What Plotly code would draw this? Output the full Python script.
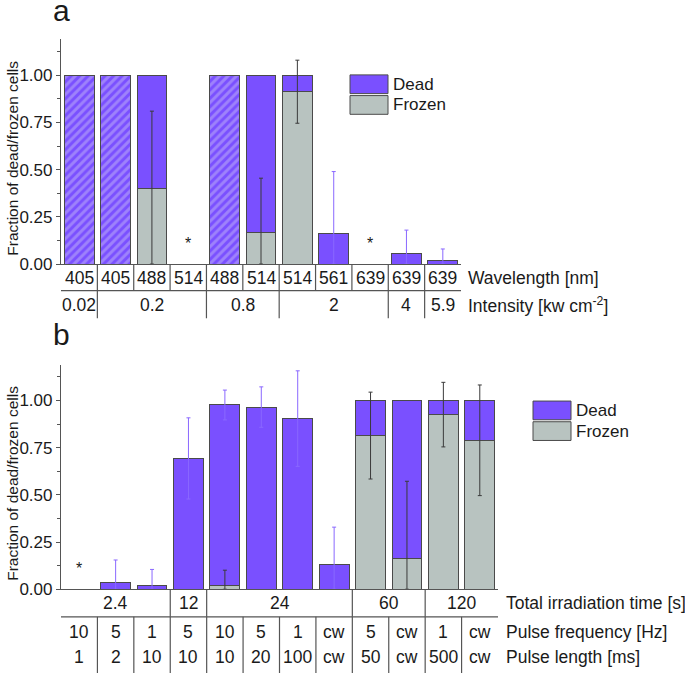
import plotly.graph_objects as go

# ---------------- DATA ----------------
# Panel a
wavelength_a = ["405", "405", "488", "514", "488", "514", "514", "561", "639", "639", "639"]
intensity_groups_a = ["0.02", "0.2", "0.8", "2", "4", "5.9"]
intensity_spans_a = [1, 3, 2, 3, 1, 1]
frozen_a = [0, 0, 0.40, 0, 0, 0.165, 0.913, 0, 0, 0, 0]
dead_a = [1.0, 1.0, 0.60, 0, 1.0, 0.835, 0.087, 0.163, 0, 0.056, 0.017]
hatched_a = [True, True, False, False, True, False, False, False, False, False, False]
frozen_err_a = [None, None, 0.41, None, None, 0.29, 0.167, None, None, None, None]
dead_err_a = [None, None, None, None, None, None, None, 0.327, None, 0.124, 0.063]
stars_a = [3, 8]

# Panel b
time_groups_b = ["2.4", "12", "24", "60", "120"]
time_spans_b = [3, 1, 4, 2, 2]
freq_b = ["10", "5", "1", "5", "10", "5", "1", "cw", "5", "cw", "1", "cw"]
length_b = ["1", "2", "10", "10", "10", "20", "100", "cw", "50", "cw", "500", "cw"]
frozen_b = [0, 0, 0, 0, 0.021, 0, 0, 0, 0.814, 0.162, 0.925, 0.789]
dead_b = [0, 0.038, 0.021, 0.693, 0.955, 0.965, 0.904, 0.129, 0.186, 0.838, 0.075, 0.211]
frozen_err_b = [None, None, None, None, 0.08, None, None, None, 0.23, 0.41, 0.171, 0.293]
dead_err_b = [None, 0.117, 0.084, 0.215, 0.079, 0.107, 0.253, 0.2, None, None, None, None]
stars_b = [0]

y_ticks = [0, 0.25, 0.5, 0.75, 1.0]

# ---------------- STYLE ----------------
W, H = 685, 684
PURPLE = "#7a50ff"
PURPLE_ERR = "#8a68ff"
GRAY = "#b8c3c0"
HATCH = "#c2b4f8"
EDGE = "#4a4a4a"
AXIS = "#555555"
FONT = "Liberation Sans, Arial, Helvetica, sans-serif"
TXT = "#1a1a1a"


def px(p):
    return p / W


def py(p):
    return 1 - p / H


fig = go.Figure()

panels = [
    dict(xa="x", ya="y", frozen=frozen_a, dead=dead_a, hatched=hatched_a,
         ferr=frozen_err_a, derr=dead_err_a, stars=stars_a),
    dict(xa="x2", ya="y2", frozen=frozen_b, dead=dead_b, hatched=[False] * len(dead_b),
         ferr=frozen_err_b, derr=dead_err_b, stars=stars_b),
]

annotations = []
shapes = []

for P in panels:
    n = len(P["dead"])
    xs = list(range(n))
    fig.add_trace(go.Bar(
        x=xs, y=P["frozen"], xaxis=P["xa"], yaxis=P["ya"], name="Frozen",
        marker=dict(color=GRAY, line=dict(color=EDGE, width=1)), showlegend=False))
    fig.add_trace(go.Bar(
        x=xs, y=P["dead"], xaxis=P["xa"], yaxis=P["ya"], name="Dead",
        marker=dict(color=PURPLE, line=dict(color=EDGE, width=1),
                    pattern=dict(shape=["/" if h else "" for h in P["hatched"]],
                                 fgcolor=HATCH, bgcolor=PURPLE, size=6, solidity=0.5)),
        showlegend=False))
    # frozen error bars
    idx = [i for i in xs if P["ferr"][i] is not None]
    fig.add_trace(go.Scatter(
        x=idx, y=[P["frozen"][i] for i in idx], xaxis=P["xa"], yaxis=P["ya"],
        mode="lines", line=dict(width=0, color="rgba(0,0,0,0)"), showlegend=False,
        error_y=dict(type="data", symmetric=False,
                     array=[P["ferr"][i] for i in idx],
                     arrayminus=[min(P["ferr"][i], P["frozen"][i]) for i in idx],
                     color="#3a3a3a", thickness=1, width=2)))
    # dead error bars (at total height)
    idx = [i for i in xs if P["derr"][i] is not None]
    tot = [P["frozen"][i] + P["dead"][i] for i in idx]
    fig.add_trace(go.Scatter(
        x=idx, y=tot, xaxis=P["xa"], yaxis=P["ya"],
        mode="lines", line=dict(width=0, color="rgba(0,0,0,0)"), showlegend=False,
        error_y=dict(type="data", symmetric=False,
                     array=[P["derr"][i] for i in idx],
                     arrayminus=[min(P["derr"][i], t) for i, t in zip(idx, tot)],
                     color=PURPLE_ERR, thickness=1, width=2)))
    for s in P["stars"]:
        annotations.append(dict(x=s, y=0.11, xref=P["xa"], yref=P["ya"], text="*",
                                showarrow=False, font=dict(size=16, color=TXT, family=FONT)))

# ---------------- AXES ----------------
y_common = dict(range=[0, 1.19], tickvals=y_ticks, ticktext=[f"{v:.2f}" for v in y_ticks],
                showline=True, linecolor=AXIS, linewidth=1.2, ticks="outside", ticklen=4,
                tickcolor=AXIS, tickwidth=1.2, showgrid=False, zeroline=False,
                tickfont=dict(size=17, color=TXT, family=FONT), ticklabelstandoff=0,
                minor=dict(ticks="outside", ticklen=3, tickcolor=AXIS, dtick=0.125, tick0=0,
                           showgrid=False))
x_common = dict(showline=True, linecolor=AXIS, linewidth=1.2, showticklabels=False,
                ticks="", showgrid=False, zeroline=False)

fig.update_layout(
    xaxis=dict(domain=[px(61), px(461)], range=[-0.5, len(dead_a) - 0.5], anchor="y", **x_common),
    yaxis=dict(domain=[py(268), py(40)], anchor="x", **y_common),
    xaxis2=dict(domain=[px(61), px(498)], range=[-0.5, len(dead_b) - 0.5], anchor="y2", **x_common),
    yaxis2=dict(domain=[py(598), py(370)], anchor="x2", **y_common),
)

# ---------------- TABLES ----------------
TFS = 17.5


def cell_text(xref, x, ypix, text):
    annotations.append(dict(x=x, y=py(ypix), xref=xref, yref="paper", text=text,
                            showarrow=False, xanchor="center", yanchor="middle",
                            font=dict(size=TFS, color=TXT, family=FONT)))


def vline(xref, x, y0pix, y1pix):
    shapes.append(dict(type="line", xref=xref, yref="paper", x0=x, x1=x,
                       y0=py(y0pix), y1=py(y1pix), line=dict(color=AXIS, width=1.2)))


def hline(xref, x0, x1, ypix):
    shapes.append(dict(type="line", xref=xref, yref="paper", x0=x0, x1=x1,
                       y0=py(ypix), y1=py(ypix), line=dict(color=AXIS, width=1.2)))


def row_label(xpix, ypix, text):
    annotations.append(dict(x=px(xpix), y=py(ypix), xref="paper", yref="paper", text=text,
                            showarrow=False, xanchor="left", yanchor="middle",
                            font=dict(size=TFS, color=TXT, family=FONT)))


def group_row(xref, groups, spans, ypix, y0pix, y1pix):
    start = 0
    for g, s in zip(groups, spans):
        cell_text(xref, start + (s - 1) / 2, ypix, g)
        start += s
        if start < sum(spans):
            vline(xref, start - 0.5, y0pix, y1pix)


# panel a
na = len(wavelength_a)
for i, w in enumerate(wavelength_a):
    cell_text("x", i, 282, w)
    if i < na - 1:
        vline("x", i + 0.5, 268, 295)
hline("x", -0.5, na - 0.5, 295)
group_row("x", intensity_groups_a, intensity_spans_a, 310, 295, 323)
row_label(466, 282, "Wavelength [nm]")
row_label(466, 310, "Intensity [kw cm<sup>-2</sup>]")

# panel b
nb = len(freq_b)
group_row("x2", time_groups_b, time_spans_b, 612, 598, 626)
hline("x2", -0.5, nb - 0.5, 626)
for i, (f, l) in enumerate(zip(freq_b, length_b)):
    cell_text("x2", i, 641, f)
    cell_text("x2", i, 667, l)
    if i < nb - 1:
        vline("x2", i + 0.5, 626, 683)
row_label(504, 612, "Total irradiation time [s]")
row_label(504, 641, "Pulse frequency [Hz]")
row_label(504, 667, "Pulse length [ms]")

# ---------------- LEGENDS ----------------
for (sx, ty) in [(350, 76), (533, 407)]:
    for k, (lab, col) in enumerate([("Dead", PURPLE), ("Frozen", GRAY)]):
        y0 = ty + k * 21
        shapes.append(dict(type="rect", xref="paper", yref="paper",
                           x0=px(sx), x1=px(sx + 38), y0=py(y0 + 19), y1=py(y0),
                           fillcolor=col, line=dict(color=EDGE, width=1)))
        annotations.append(dict(x=px(sx + 41), y=py(y0 + 9.5), xref="paper", yref="paper",
                                text=lab, showarrow=False, xanchor="left", yanchor="middle",
                                font=dict(size=17, color=TXT, family=FONT)))

# ---------------- TITLES / PANEL LABELS ----------------
for (cy, lab, ly) in [(161, "a", 11), (491, "b", 339)]:
    annotations.append(dict(x=px(13), y=py(cy), xref="paper", yref="paper",
                            text="Fraction of dead/frozen cells", textangle=-90,
                            showarrow=False, xanchor="center", yanchor="middle",
                            font=dict(size=15.5, color=TXT, family=FONT)))
    annotations.append(dict(x=px(51), y=py(ly), xref="paper", yref="paper", text=lab,
                            showarrow=False, xanchor="left", yanchor="middle",
                            font=dict(size=30, color=TXT, family=FONT)))

fig.update_layout(
    autosize=True,
    margin=dict(l=0, r=0, t=0, b=0),
    paper_bgcolor="white", plot_bgcolor="white",
    barmode="stack", bargap=0.18,
    showlegend=False,
    annotations=annotations, shapes=shapes,
    font=dict(family=FONT, color=TXT),
)

fig.write_html(
    "out.html",
    config={"displayModeBar": False, "responsive": True},
    default_width="100vw", default_height="100vh",
    post_script=("document.body.style.margin='0';"
                 "document.documentElement.style.overflow='hidden';"
                 "document.body.style.overflow='hidden';"
                 "Plotly.Plots.resize(document.getElementById('{plot_id}'));"),
)
